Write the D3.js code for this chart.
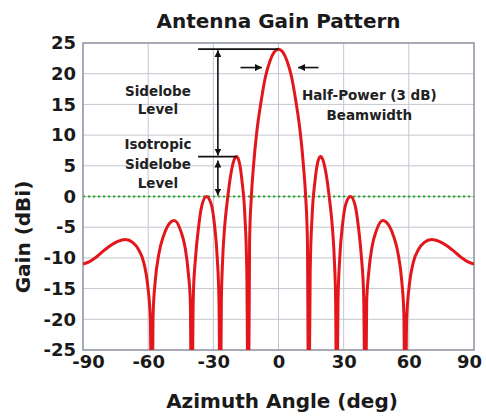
<!DOCTYPE html>
<html>
<head>
<meta charset="utf-8">
<script src="https://cdn.jsdelivr.net/npm/d3@7"></script>
<style>
  html, body { margin: 0; padding: 0; background: #fff; }
  svg { display: block; font-family: "DejaVu Sans", sans-serif; font-weight: bold; }
</style>
</head>
<body>
<svg id="chart" width="486" height="417"></svg>
<script>
// azimuth angle (deg) and gain (dBi)
const angles = [
  -90, -87, -84, -80, -77, -74, -70.5, -67, -64.5, -62, -60.2, -59, -58.3,
  -57.7, -56.8, -55, -53, -51, -48, -45, -43, -41.5, -40.6, -40,
  -39.2, -38.2, -36.8, -35.3, -33.2, -31, -29.5, -28.2, -27.4, -26.8,
  -26.3, -25.8, -24.8, -23.5, -22, -20.6, -19.3, -18, -16.8, -15.5, -14.6, -13.9,
  -13.3, -12.5, -11.5, -10, -8, -6, -4, -2,
  0,
  2, 4, 6, 8, 10, 11.5, 12.5, 13.3,
  13.9, 14.6, 15.5, 16.8, 18, 19.3, 20.6, 22, 23.5, 24.8, 25.8, 26.3,
  26.8, 27.4, 28.2, 29.5, 31, 33.2, 35.3, 36.8, 38.2, 39.2,
  40, 40.6, 41.5, 43, 45, 48, 51, 53, 55, 56.8, 57.7,
  58.3, 59, 60.2, 62, 64.5, 67, 70.5, 74, 77, 80, 84, 87, 90
];
const gains = [
  -11, -10.6, -9.9, -8.7, -7.9, -7.3, -7.0, -7.5, -8.6, -10.8, -14.5, -20, -40,
  -19, -14, -9.2, -6.5, -4.8, -3.9, -5.6, -8.3, -12.5, -17, -40,
  -16, -10, -5, -1.5, 0, -1.2, -4.5, -10, -17, -40,
  -17, -11, -5, -0.5, 3.5, 5.8, 6.5, 5.5, 2.5, -3, -12, -40,
  -7, 0, 5, 10.5, 15.5, 19.5, 22, 23.5,
  24,
  23.5, 22, 19.5, 15.5, 10.5, 5, 0, -7,
  -40, -12, -3, 2.5, 5.5, 6.5, 5.8, 3.5, -0.5, -5, -11, -17,
  -40, -17, -10, -4.5, -1.2, 0, -1.5, -5, -10, -16,
  -40, -17, -12.5, -8.3, -5.6, -3.9, -4.8, -6.5, -9.2, -14, -19,
  -40, -20, -14.5, -10.8, -8.6, -7.5, -7.0, -7.3, -7.9, -8.7, -9.9, -10.6, -11
];
const xTicks = [-90, -60, -30, 0, 30, 60, 90];
const yTicks = [-25, -20, -15, -10, -5, 0, 5, 10, 15, 20, 25];
const mainPeak = 24;      // main lobe level
const sidelobePeak = 6.5; // first sidelobe level
const isoLevel = 0;       // isotropic level
const halfPower = 21;     // 3 dB down

const svg = d3.select("#chart");
const m = { left: 83, right: 474, top: 43, bottom: 350 };

const x = d3.scaleLinear().domain([-90, 90]).range([m.left, m.right]);
const y = d3.scaleLinear().domain([-25, 25]).range([m.bottom, m.top]);

const defs = svg.append("defs");
defs.append("clipPath").attr("id", "plotClip")
  .append("rect")
  .attr("x", m.left).attr("y", m.top)
  .attr("width", m.right - m.left).attr("height", m.bottom - m.top);

// arrow heads
defs.append("marker")
  .attr("id", "head")
  .attr("viewBox", "0 0 10 10")
  .attr("refX", 10).attr("refY", 5)
  .attr("markerWidth", 7).attr("markerHeight", 7)
  .attr("orient", "auto-start-reverse")
  .attr("markerUnits", "userSpaceOnUse")
  .append("path").attr("d", "M0,0L10,5L0,10Z").attr("fill", "#111");

// grid
const grid = svg.append("g");
grid.selectAll(".gx").data(xTicks.slice(1, -1)).join("line")
  .attr("x1", d => x(d)).attr("x2", d => x(d))
  .attr("y1", m.top).attr("y2", m.bottom)
  .attr("stroke", "#c3c6d0").attr("stroke-width", 1);
grid.selectAll(".gy").data(yTicks.slice(1, -1)).join("line")
  .attr("x1", m.left).attr("x2", m.right)
  .attr("y1", d => y(d)).attr("y2", d => y(d))
  .attr("stroke", "#c3c6d0").attr("stroke-width", 1);

// isotropic level (0 dBi) dotted line
svg.append("line")
  .attr("x1", m.left).attr("x2", m.right)
  .attr("y1", y(isoLevel)).attr("y2", y(isoLevel))
  .attr("stroke", "#22a822").attr("stroke-width", 2.2)
  .attr("stroke-dasharray", "2.2,2.8");

// frame
svg.append("rect")
  .attr("x", m.left).attr("y", m.top)
  .attr("width", m.right - m.left).attr("height", m.bottom - m.top)
  .attr("fill", "none").attr("stroke", "#8a90a0").attr("stroke-width", 1.5);

// gain pattern
const pts = angles.map((a, i) => [a, gains[i]]);
const line = d3.line()
  .x(d => x(d[0])).y(d => y(d[1]))
  .curve(d3.curveMonotoneX);
svg.append("path")
  .datum(pts)
  .attr("clip-path", "url(#plotClip)")
  .attr("d", line)
  .attr("fill", "none")
  .attr("stroke", "#e3161c")
  .attr("stroke-width", 3)
  .attr("stroke-linejoin", "round");

// axes (labels only)
const xAxis = svg.append("g")
  .attr("transform", `translate(0,${m.bottom})`)
  .call(d3.axisBottom(x).tickValues(xTicks).tickFormat(d => String(d)).tickSize(0).tickPadding(0));
xAxis.select(".domain").remove();
xAxis.selectAll("text")
  .attr("y", 18).attr("dy", 0)
  .attr("x", d => (d === -90 ? 5 : d === 90 ? -5 : 0))
  .attr("font-family", "DejaVu Sans").attr("font-weight", "bold")
  .attr("font-size", 18).attr("fill", "#1a1a1a");

const yAxis = svg.append("g")
  .attr("transform", `translate(${m.left},0)`)
  .call(d3.axisLeft(y).tickValues(yTicks).tickFormat(d => String(d)).tickSize(0).tickPadding(7));
yAxis.select(".domain").remove();
yAxis.selectAll("text")
  .attr("font-family", "DejaVu Sans").attr("font-weight", "bold")
  .attr("font-size", 18).attr("fill", "#1a1a1a");

// titles
svg.append("text")
  .attr("x", 278.5).attr("y", 28)
  .attr("text-anchor", "middle")
  .attr("font-size", 20).attr("fill", "#1a1a1a")
  .text("Antenna Gain Pattern");

svg.append("text")
  .attr("x", 282).attr("y", 408)
  .attr("text-anchor", "middle")
  .attr("font-size", 20).attr("fill", "#1a1a1a")
  .text("Azimuth Angle (deg)");

svg.append("text")
  .attr("transform", "translate(30,237) rotate(-90)")
  .attr("text-anchor", "middle")
  .attr("font-size", 20).attr("fill", "#1a1a1a")
  .text("Gain (dBi)");

// sidelobe annotation
const ann = svg.append("g").attr("stroke", "#111").attr("stroke-width", 1.6);
const arrowX = x(-27.9);
ann.append("line")
  .attr("x1", x(-37)).attr("x2", x(0))
  .attr("y1", y(mainPeak)).attr("y2", y(mainPeak));
ann.append("line")
  .attr("x1", x(-37)).attr("x2", x(-19.3))
  .attr("y1", y(sidelobePeak)).attr("y2", y(sidelobePeak));
ann.append("line")
  .attr("x1", arrowX).attr("x2", arrowX)
  .attr("y1", y(mainPeak) + 1).attr("y2", y(sidelobePeak) - 1)
  .attr("marker-start", "url(#head)").attr("marker-end", "url(#head)");
ann.append("line")
  .attr("x1", arrowX).attr("x2", arrowX)
  .attr("y1", y(sidelobePeak) + 4).attr("y2", y(isoLevel) - 1)
  .attr("marker-start", "url(#head)").attr("marker-end", "url(#head)");

// half-power arrows
ann.append("line")
  .attr("x1", x(-17.5)).attr("x2", x(-7.6))
  .attr("y1", y(halfPower)).attr("y2", y(halfPower))
  .attr("marker-end", "url(#head)");
ann.append("line")
  .attr("x1", x(18.4)).attr("x2", x(9))
  .attr("y1", y(halfPower)).attr("y2", y(halfPower))
  .attr("marker-end", "url(#head)");

const notes = [
  { t: "Sidelobe", a: -55.5, yy: 96 },
  { t: "Level", a: -55.5, yy: 114 },
  { t: "Isotropic", a: -55.5, yy: 149 },
  { t: "Sidelobe", a: -55.5, yy: 169 },
  { t: "Level", a: -55.5, yy: 188 },
  { t: "Half-Power (3 dB)", a: 41.8, yy: 100 },
  { t: "Beamwidth", a: 41.8, yy: 120 }
];
svg.append("g").selectAll("text").data(notes).join("text")
  .attr("x", d => x(d.a)).attr("y", d => d.yy)
  .attr("text-anchor", "middle")
  .attr("font-size", 13.5).attr("fill", "#222")
  .text(d => d.t);
</script>
</body>
</html>
